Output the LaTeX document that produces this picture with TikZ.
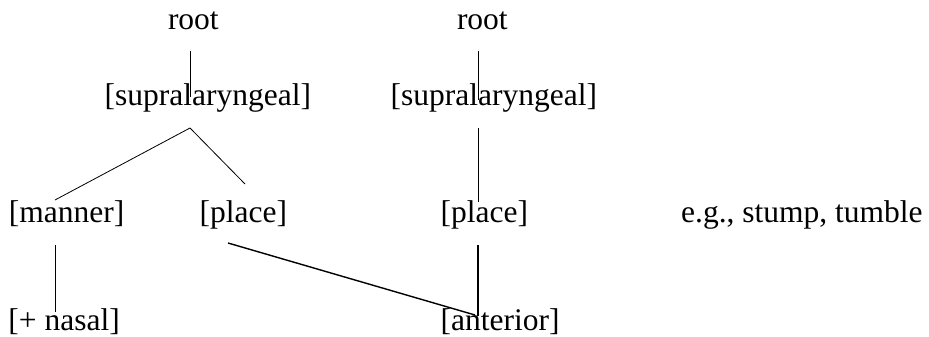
\documentclass[tikz,border=0pt]{standalone}
\usepackage{fontspec}
\setmainfont{Liberation Serif}
\begin{document}
\begin{tikzpicture}[x=1pt,y=-1pt,
    feat/.style={anchor=base west,inner sep=0pt,font=\fontsize{31.5}{38}\selectfont},
    link/.style={line width=0.8pt},
    heavy/.style={line width=1.4pt}]
    \useasboundingbox (0,0) rectangle (929,337);

    \node[feat] (rootA) at (167.8,29.5) {root};
    \node[feat] (supraA) at (104.5,106) {[supralaryngeal]};
    \node[feat] (manner) at (8.8,222) {[manner]};
    \node[feat] (placeA) at (199.5,222) {[place]};
    \node[feat] (nasal) at (8.2,330) {[+ nasal]};

    \node[feat] (rootB) at (456.8,29.5) {root};
    \node[feat] (supraB) at (390.5,106) {[supralaryngeal]};
    \node[feat] (placeB) at (440.5,222) {[place]};
    \node[feat] (anterior) at (440.5,330) {[anterior]};
    \node[feat] (eg) at (681,222) {e.g., stump, tumble};

    \coordinate (A1) at (190,51);   \coordinate (A2) at (190,97);
    \coordinate (A3) at (190,128);  \coordinate (A4) at (55,200);
    \coordinate (A5) at (245,184);  \coordinate (A6) at (55,245);
    \coordinate (A7) at (55,312);   \coordinate (A8) at (228,243);
    \coordinate (B1) at (478,51);   \coordinate (B2) at (478,100);
    \coordinate (B3) at (478,128);  \coordinate (B4) at (478,202);
    \coordinate (B5) at (478,245);  \coordinate (B6) at (478,316);
    \coordinate (B7) at (475,315);

    \draw[link] (A1) -- (A2);
    \draw[link] (A3) -- (A4);
    \draw[link] (A3) -- (A5);
    \draw[link] (A6) -- (A7);
    \draw[heavy] (A8) -- (B7);
    \draw[link] (B1) -- (B2);
    \draw[link] (B3) -- (B4);
    \draw[heavy] (B5) -- (B6);
\end{tikzpicture}
\end{document}
